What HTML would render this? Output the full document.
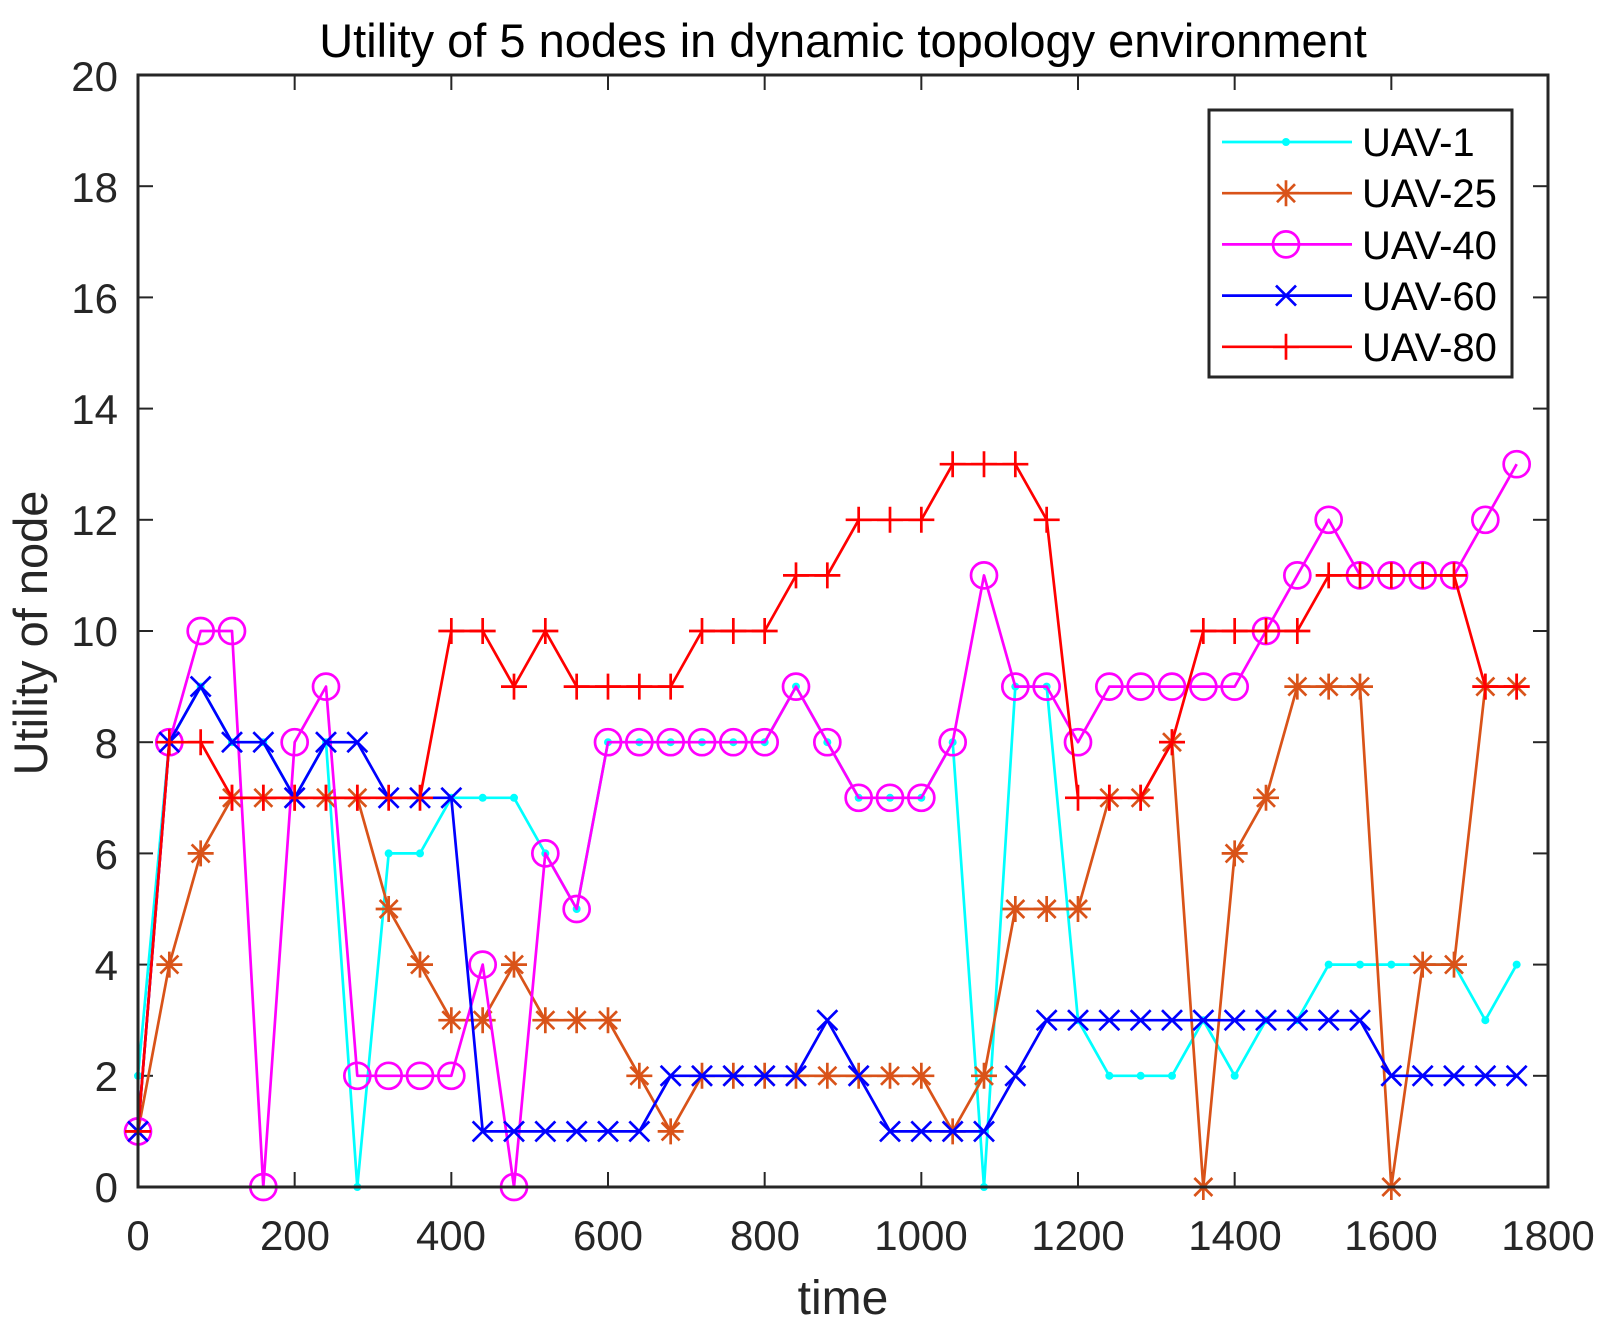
<!DOCTYPE html>
<html><head><meta charset="utf-8"><style>
html,body{margin:0;padding:0;background:#fff;}
svg{display:block;font-family:"Liberation Sans",Arial,sans-serif;}
</style></head><body>
<svg id="s" width="1611" height="1340" viewBox="0 0 1611 1340" xmlns="http://www.w3.org/2000/svg">
<rect width="1611" height="1340" fill="#fff"/>
<text x="843" y="57" font-size="47" text-anchor="middle" fill="#000">Utility of 5 nodes in dynamic topology environment</text>
<g font-size="42" fill="#262626" text-anchor="end">
<text x="118" y="1202">0</text><text x="118" y="1091">2</text><text x="118" y="980">4</text>
<text x="118" y="869">6</text><text x="118" y="758">8</text><text x="118" y="646">10</text>
<text x="118" y="535">12</text><text x="118" y="424">14</text><text x="118" y="313">16</text>
<text x="118" y="202">18</text><text x="118" y="91">20</text>
</g>
<g font-size="42" fill="#262626" text-anchor="middle">
<text x="138" y="1250">0</text><text x="295" y="1250">200</text><text x="451" y="1250">400</text>
<text x="608" y="1250">600</text><text x="765" y="1250">800</text><text x="921" y="1250">1000</text>
<text x="1078" y="1250">1200</text><text x="1235" y="1250">1400</text><text x="1391" y="1250">1600</text>
<text x="1548" y="1250">1800</text>
</g>
<text x="843" y="1314" font-size="48" text-anchor="middle" fill="#262626">time</text>
<text transform="translate(47,633) rotate(-90)" font-size="47" text-anchor="middle" fill="#262626">Utility of node</text>
<g id="ticks" stroke="#262626" stroke-width="2"></g>
<g id="series"></g>
<rect x="138" y="75" width="1410" height="1112" fill="none" stroke="#262626" stroke-width="3"/>
<g id="leg">
<rect x="1209" y="110" width="303" height="267" fill="#fff" stroke="#262626" stroke-width="3"/>
<g font-size="40" fill="#000">
<text x="1362" y="156">UAV-1</text><text x="1362" y="207">UAV-25</text><text x="1362" y="259">UAV-40</text>
<text x="1362" y="310">UAV-60</text><text x="1362" y="361">UAV-80</text>
</g>
</g>
</svg>
<script>
var NS="http://www.w3.org/2000/svg";
function X(t){return 138+t*1410/1800;}
function Y(v){return 1187-v*55.6;}
function el(p,tag,a){var e=document.createElementNS(NS,tag);for(var k in a)e.setAttribute(k,a[k]);p.appendChild(e);return e;}
var tk=document.getElementById('ticks');
for(var i=0;i<=9;i++){var x=X(i*200);el(tk,'line',{x1:x,y1:1187,x2:x,y2:1172});el(tk,'line',{x1:x,y1:75,x2:x,y2:90});}
for(var j=0;j<=10;j++){var y=Y(j*2);el(tk,'line',{x1:138,y1:y,x2:153,y2:y});el(tk,'line',{x1:1548,y1:y,x2:1533,y2:y});}
var S=[
{c:'#00FFFF',m:'dot',d:[2,8,9,8,8,7,8,0,6,6,7,7,7,6,5,8,8,8,8,8,8,9,8,7,7,7,8,0,9,9,3,2,2,2,3,2,3,3,4,4,4,4,4,3,4]},
{c:'#D95319',m:'star',d:[1,4,6,7,7,7,7,7,5,4,3,3,4,3,3,3,2,1,2,2,2,2,2,2,2,2,1,2,5,5,5,7,7,8,0,6,7,9,9,9,0,4,4,9,9]},
{c:'#FF00FF',m:'circ',d:[1,8,10,10,0,8,9,2,2,2,2,4,0,6,5,8,8,8,8,8,8,9,8,7,7,7,8,11,9,9,8,9,9,9,9,9,10,11,12,11,11,11,11,12,13]},
{c:'#0000FF',m:'x',d:[1,8,9,8,8,7,8,8,7,7,7,1,1,1,1,1,1,2,2,2,2,2,3,2,1,1,1,1,2,3,3,3,3,3,3,3,3,3,3,3,2,2,2,2,2]},
{c:'#FF0000',m:'plus',d:[1,8,8,7,7,7,7,7,7,7,10,10,9,10,9,9,9,9,10,10,10,11,11,12,12,12,13,13,13,12,7,7,7,8,10,10,10,10,11,11,11,11,11,9,9]}
];
function marker(g,m,x,y,c){
 if(m=='dot')el(g,'circle',{cx:x,cy:y,r:4,fill:c});
 else if(m=='circ')el(g,'circle',{cx:x,cy:y,r:13,fill:'none',stroke:c,'stroke-width':2.7});
 else if(m=='x'){var r=10;el(g,'path',{d:'M'+(x-r)+' '+(y-r)+'L'+(x+r)+' '+(y+r)+'M'+(x-r)+' '+(y+r)+'L'+(x+r)+' '+(y-r),stroke:c,'stroke-width':2.7});}
 else if(m=='plus'){var r=13;el(g,'path',{d:'M'+(x-r)+' '+y+'L'+(x+r)+' '+y+'M'+x+' '+(y-r)+'L'+x+' '+(y+r),stroke:c,'stroke-width':2.7});}
 else if(m=='star'){var r=13,q=9;el(g,'path',{d:'M'+(x-r)+' '+y+'L'+(x+r)+' '+y+'M'+x+' '+(y-r)+'L'+x+' '+(y+r)+'M'+(x-q)+' '+(y-q)+'L'+(x+q)+' '+(y+q)+'M'+(x-q)+' '+(y+q)+'L'+(x+q)+' '+(y-q),stroke:c,'stroke-width':2.7});}
}
var sg=document.getElementById('series');
S.forEach(function(s){
 var g=el(sg,'g',{});var p='';
 s.d.forEach(function(v,i){p+=(i?'L':'M')+X(i*40).toFixed(1)+' '+Y(v).toFixed(1);});
 el(g,'path',{d:p,fill:'none',stroke:s.c,'stroke-width':2.7,'stroke-linejoin':'round'});
 s.d.forEach(function(v,i){marker(g,s.m,X(i*40),Y(v),s.c);});
});
var lg=document.getElementById('leg');
S.forEach(function(s,i){var y=142+i*51.2;el(lg,'line',{x1:1222,y1:y,x2:1352,y2:y,stroke:s.c,'stroke-width':2.7});marker(lg,s.m,1286,y,s.c);});
</script>
</body></html>
